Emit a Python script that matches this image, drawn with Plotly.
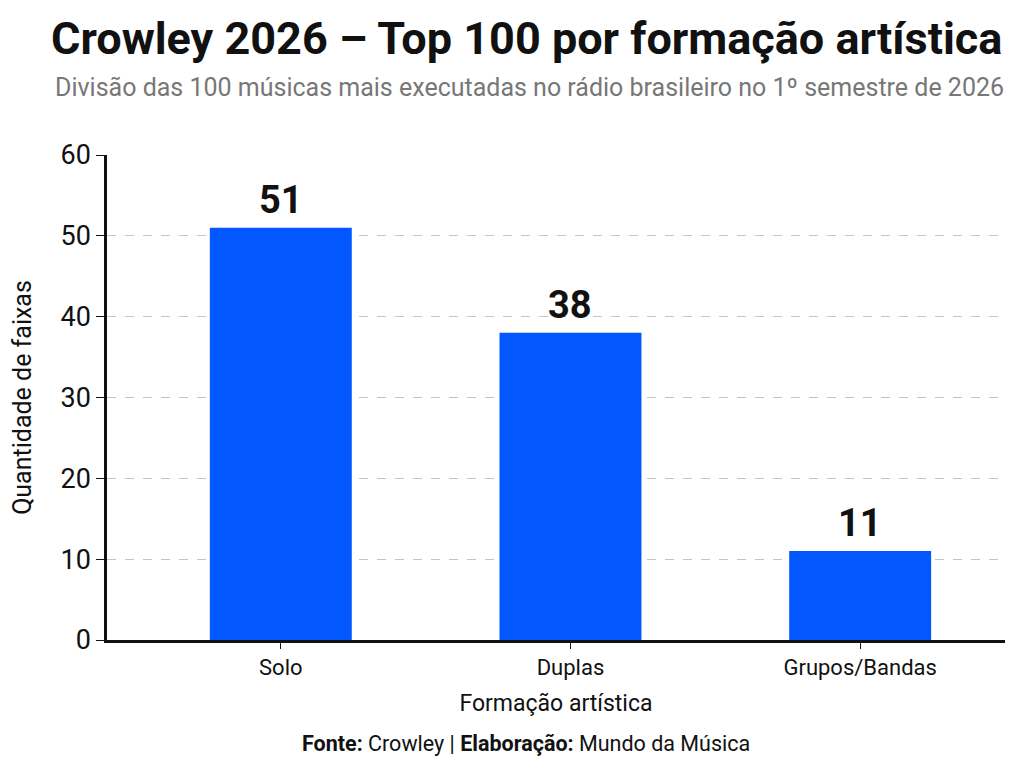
import plotly.graph_objects as go

categories = ["Solo", "Duplas", "Grupos/Bandas"]
values = [51, 38, 11]
y_ticks = [0, 10, 20, 30, 40, 50, 60]

TITLE = "Crowley 2026 – Top 100 por formação artística"
SUBTITLE = "Divisão das 100 músicas mais executadas no rádio brasileiro no 1º semestre de 2026"
SOURCE = "<b>Fonte:</b> Crowley | <b>Elaboração:</b> Mundo da Música"

ROB = "Roboto, sans-serif"
BLUE = "#0258fe"

fig = go.Figure()
fig.add_trace(go.Bar(
    x=categories, y=values, width=0.49,
    marker=dict(color=BLUE, line=dict(width=0)),
    hoverinfo="skip",
))

for c, v in zip(categories, values):
    fig.add_annotation(x=c, y=v, text=f"<b>{v}</b>", showarrow=False,
                       yanchor="bottom", yshift=4,
                       font=dict(family=ROB, size=38, color="#111"))

fig.add_annotation(xref="paper", yref="paper", x=0.467, y=1.0, yshift=88,
                   text=f"<b>{TITLE}</b>", showarrow=False, xanchor="center", yanchor="bottom",
                   font=dict(family=ROB, size=45, color="#111"))
fig.add_annotation(xref="paper", yref="paper", x=0.47, y=1.0, yshift=51,
                   text=SUBTITLE, showarrow=False, xanchor="center", yanchor="bottom",
                   font=dict(family=ROB, size=25, color="#777"))
fig.add_annotation(xref="paper", yref="paper", x=0.467, y=0, yshift=-118,
                   text=SOURCE, showarrow=False, xanchor="center", yanchor="bottom",
                   font=dict(family=ROB, size=21.5, color="#111"))

fig.update_layout(
    width=1024, height=770,
    margin=dict(l=107, r=19, t=155, b=130),
    paper_bgcolor="white", plot_bgcolor="white",
    showlegend=False,
    xaxis=dict(
        range=[-0.6, 2.5],
        showline=True, linecolor="#111", linewidth=2.5,
        ticks="outside", ticklen=6, tickcolor="#111",
        tickfont=dict(family=ROB, size=22, color="#111"),
        title=dict(text="Formação artística", font=dict(family=ROB, size=23, color="#111"), standoff=16),
        showgrid=False, zeroline=False,
    ),
    yaxis=dict(
        range=[0, 60], tickvals=y_ticks,
        showline=True, linecolor="#111", linewidth=2.5,
        ticks="outside", ticklen=8, tickcolor="#111",
        tickfont=dict(family=ROB, size=27, color="#111"),
        title=dict(text="Quantidade de faixas", font=dict(family=ROB, size=25, color="#111"), standoff=22),
        showgrid=True, gridcolor="#c4c4c4", griddash="dash", gridwidth=1,
        zeroline=False,
    ),
)

fig.write_html("out.html")
